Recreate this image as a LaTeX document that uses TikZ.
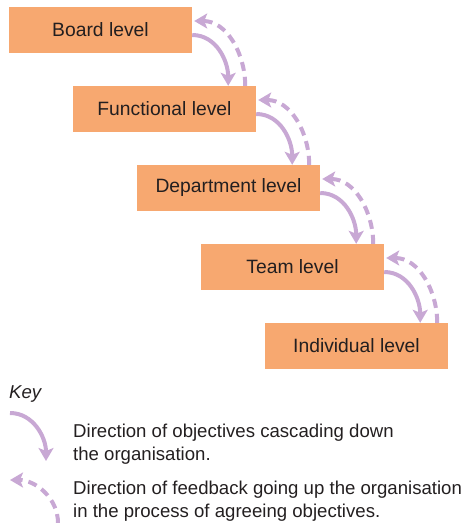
\documentclass[tikz,border=0pt]{standalone}
\usepackage{fontspec}
\setmainfont{Liberation Sans}
\usepackage{xcolor}
\usetikzlibrary{arrows.meta}
\definecolor{lvlorange}{RGB}{247,168,112}
\definecolor{arrowlilac}{RGB}{200,168,212}
\definecolor{textgrey}{RGB}{35,31,32}

\begin{document}
\begin{tikzpicture}[x=1pt,y=-1pt,
  level/.style={fill=lvlorange,inner sep=0pt,minimum width=183pt,minimum height=46pt,text=textgrey,font=\fontsize{19.3}{23}\selectfont},
  keytext/.style={anchor=west,align=left,inner sep=0pt,text=textgrey,font=\fontsize{18.6}{23.5}\selectfont},
  down/.style={-{Stealth[length=13pt,width=15pt,inset=3pt]},line width=4pt,draw=arrowlilac},
  up/.style={-{Stealth[length=13pt,width=15pt,inset=3pt]},line width=4pt,draw=arrowlilac,dash pattern=on 9pt off 6pt}
]
\useasboundingbox (0,0) rectangle (466,523);

\node[level] (board) at (100.5,30) {Board level};
\node[level] (functional) at (164.5,109) {Functional level};
\node[level] (department) at (228.5,188) {Department level};
\node[level] (team) at (292.5,267) {Team level};
\node[level] (individual) at (356.5,346) {Individual level};

% cascading down
\draw[down] ([yshift=-5pt]board.east) to[out=0,in=90] ([xshift=-28pt]functional.north east);
\draw[down] ([yshift=-5pt]functional.east) to[out=0,in=90] ([xshift=-28pt]department.north east);
\draw[down] ([yshift=-5pt]department.east) to[out=0,in=90] ([xshift=-28pt]team.north east);
\draw[down] ([yshift=-5pt]team.east) to[out=0,in=90] ([xshift=-28pt]individual.north east);

% feedback going up
\draw[up] ([xshift=-11pt]functional.north east) to[out=90,in=0] ([yshift=9pt,xshift=2pt]board.east);
\draw[up] ([xshift=-11pt]department.north east) to[out=90,in=0] ([yshift=9pt,xshift=2pt]functional.east);
\draw[up] ([xshift=-11pt]team.north east) to[out=90,in=0] ([yshift=9pt,xshift=2pt]department.east);
\draw[up] ([xshift=-11pt]individual.north east) to[out=90,in=0] ([yshift=9pt,xshift=2pt]team.east);

% key
\node[anchor=west,inner sep=0pt,text=textgrey,font=\fontsize{18.6}{23}\selectfont\itshape] (key) at (9,394) {Key};
\coordinate (downa) at (10,413);
\coordinate (downb) at (46,461);
\coordinate (upa) at (58,523);
\coordinate (upb) at (10,480);
\draw[down] (downa) to[out=0,in=90] (downb);
\draw[up] (upa) to[out=90,in=0] (upb);
\node[keytext] (keydown) at (73,444) {Direction of objectives cascading down\\the organisation.};
\node[keytext] (keyup) at (73,501) {Direction of feedback going up the organisation\\in the process of agreeing objectives.};
\end{tikzpicture}
\end{document}
